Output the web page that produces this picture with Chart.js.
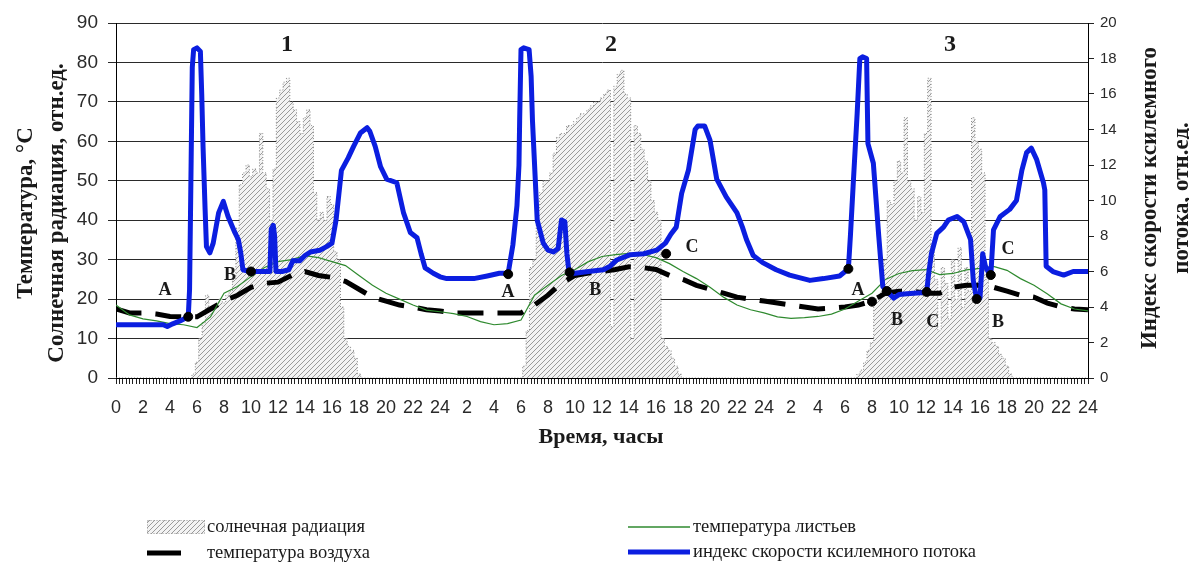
<!DOCTYPE html>
<html>
<head>
<meta charset="utf-8">
<script src="https://cdn.jsdelivr.net/npm/chart.js@4.4.1/dist/chart.umd.min.js"></script>
<style>
  html, body { margin: 0; padding: 0; background: #fff; }
</style>
</head>
<body>
<canvas id="chart" width="1189" height="573"></canvas>
<script>
// --- data (hours run 0..72 over three days) ---
const hourTicks = [0, 2, 4, 6, 8, 10, 12, 14, 16, 18, 20, 22, 24];

// solar radiation, rel. units, sampled every 15 min during daylight
const radStep = 0.25;
const radStart = [5.75, 30.25, 55.0];
const radDay1 = [1, 4, 10, 14, 21, 17, 18, 19, 20, 19, 21, 22, 25, 38, 49, 52, 54, 51, 53, 52, 62, 52, 48, 40, 53,
  71, 73, 75, 76, 70, 68, 65, 62, 66, 68, 64, 47, 40, 42, 40, 46, 44, 32, 30, 18, 10, 8, 7, 5, 1];
const radDay2 = [3, 12, 28, 30, 43, 47, 50, 50, 52, 57, 61, 62, 62, 64, 64, 65, 66, 67, 67, 68, 69, 70, 70, 71, 72,
  73, 13, 74, 77, 78, 72, 71, 10, 64, 62, 58, 55, 50, 45, 42, 40, 10, 8, 7, 5, 3, 1];
const radDay3 = [1, 2, 4, 7, 9, 20, 21, 22, 30, 45, 44, 50, 55, 52, 66, 50, 48, 40, 46, 42, 62, 76, 32, 25, 12, 28,
  24, 15, 30, 20, 33, 18, 28, 22, 66, 60, 58, 52, 25, 10, 9, 8, 6, 5, 3, 1];

// air temperature, °C, hourly
const airTemp = [17.5, 16.5, 16.5, 16.2, 15.6, 15.5, 15.5, 17.5, 19.5, 21, 23, 24, 24.3, 26, 27, 26, 25.5, 24.5,
  22.5, 20.5, 19.5, 18.5, 18, 17.3, 17, 16.5, 16.5, 16.5, 16.5, 16.5, 16.5, 18.5, 21, 24, 26, 26.6, 27, 27.5,
  28.2, 28, 27.5, 26, 25, 23.5, 22.5, 21.5, 20.5, 20, 19.5, 19, 18.5, 18, 17.5, 17.7, 18, 18.5, 19.5, 21.5, 22,
  22, 21.5, 21.5, 23, 23.5, 23.5, 23, 22, 21, 20.5, 19, 18, 17.5, 17.3];

// leaf temperature, °C, hourly
const leafTemp = [18.5, 16, 15, 14.5, 13.8, 13.5, 12.8, 15.5, 21.5, 23.2, 25.7, 28, 29.5, 30, 31, 30.5, 29.5, 28.5,
  26, 23.5, 21.5, 20, 18.5, 17.2, 16.8, 16.3, 15.6, 14.3, 13.5, 13.8, 14.7, 21, 23.5, 26, 27.5, 29.5, 30.8, 31.3,
  31.6, 31.3, 30.5, 29, 27, 25.2, 23, 20.5, 18.5, 17.3, 16.5, 15.5, 15.1, 15.3, 15.6, 16.2, 17.5, 19.5, 21.5,
  25, 26.5, 27.2, 27.5, 26.2, 26.5, 27.4, 27.8, 28.3, 27.3, 25.2, 23.5, 21.3, 18.8, 17.5, 17];

// xylem flow index, rel. units: [hour, value]
const flowIndex = [
  [0, 3.0], [1, 3.0], [2, 3.0], [3, 3.0], [3.5, 3.0], [3.8, 2.9], [4.2, 3.05], [4.7, 3.2], [5.1, 3.35], [5.35, 3.4],
  [5.45, 5], [5.55, 11.2], [5.65, 17.5], [5.75, 18.5], [6.0, 18.6], [6.25, 18.4], [6.35, 16], [6.45, 13.0],
  [6.6, 9.5], [6.7, 7.4], [6.95, 7.05], [7.2, 7.6], [7.6, 9.3], [7.95, 9.95], [8.3, 9.1], [8.8, 8.2], [9.06, 7.8],
  [9.25, 7.0], [9.4, 6.1], [9.9, 6.0], [10.5, 6.0], [11.0, 6.0], [11.4, 6.0], [11.5, 8.4], [11.65, 8.6],
  [11.75, 8.0], [11.85, 6.0], [12.3, 6.0], [12.8, 6.1], [13.1, 6.6], [13.6, 6.6], [14.0, 6.9], [14.4, 7.1],
  [15.1, 7.2], [15.6, 7.4], [16.0, 7.6], [16.3, 8.9], [16.5, 10.3], [16.7, 11.7], [17.2, 12.4], [17.6, 13.05],
  [18.1, 13.8], [18.6, 14.1], [18.8, 13.9], [19.2, 13.05], [19.6, 11.9], [20.05, 11.2], [20.8, 11.0], [21.3, 9.3],
  [21.8, 8.2], [22.3, 7.9], [22.6, 7.0], [22.9, 6.2], [23.5, 5.9], [24, 5.7],
  [24.5, 5.6], [25.5, 5.6], [26.5, 5.6], [27.5, 5.75], [28.4, 5.9], [29.05, 5.9], [29.4, 7.5], [29.7, 9.7],
  [29.85, 12], [29.9, 14.5], [30.0, 18.5], [30.2, 18.6], [30.6, 18.5], [30.75, 17], [30.85, 14.5], [31.2, 8.9],
  [31.65, 7.6], [32.0, 7.2], [32.4, 7.1], [32.75, 7.3], [33.0, 8.9], [33.25, 8.8], [33.4, 7.0], [33.55, 6.0],
  [34.0, 5.9], [35.0, 6.0], [36.1, 6.1], [36.6, 6.3], [37.1, 6.65], [38.1, 6.95], [39.1, 7.0], [40.05, 7.2],
  [40.7, 7.6], [41.1, 8.1], [41.5, 8.5], [41.9, 10.4], [42.4, 11.7], [42.9, 14.0], [43.1, 14.2], [43.6, 14.2],
  [44.0, 13.4], [44.5, 11.2], [45.2, 10.2], [46.0, 9.3], [46.4, 8.5], [46.7, 7.8], [47.2, 6.9], [47.9, 6.5],
  [48.9, 6.1], [49.9, 5.8], [51.4, 5.5], [52.4, 5.6], [53.6, 5.75], [54.25, 6.15],
  [54.4, 8], [54.6, 10.8], [54.9, 14.9], [55.1, 18.0], [55.3, 18.1], [55.6, 18.0], [55.7, 13.2], [56.1, 12.1],
  [56.5, 8.0], [56.8, 5.15], [57.1, 4.9], [57.6, 4.5], [58.0, 4.7], [58.6, 4.75], [59.6, 4.8], [60.05, 4.85],
  [60.2, 5.9], [60.4, 7.0], [60.8, 8.15], [61.3, 8.5], [61.65, 8.9], [62.3, 9.1], [62.8, 8.8], [63.3, 7.8],
  [63.5, 5.5], [63.75, 4.45], [64.0, 4.5], [64.2, 7.0], [64.4, 6.3], [64.6, 6.0], [64.8, 5.8], [65.0, 8.35],
  [65.5, 9.1], [66.2, 9.5], [66.7, 10.0], [67.1, 11.7], [67.45, 12.7], [67.8, 12.95], [68.2, 12.3], [68.7, 11.0],
  [68.8, 10.6], [68.9, 6.3], [69.4, 6.0], [70.2, 5.8], [70.9, 6.0], [72, 6.0]
];

// marked points on the flow curve: [hour, value]
const markPoints = [[5.35, 3.45], [10.0, 6.0], [29.05, 5.85], [33.6, 5.95], [40.75, 7.0], [54.25, 6.15],
  [56.0, 4.3], [57.1, 4.9], [60.05, 4.85], [63.75, 4.45], [64.8, 5.8]];

// letters at hour / temperature-axis value
const markLetters = [['A', 3.63, 22.3], ['B', 8.44, 26.1], ['A', 29.04, 21.6], ['B', 35.5, 22.3], ['C', 42.67, 33],
  ['A', 54.96, 22.3], ['B', 57.85, 14.5], ['C', 60.5, 14.2], ['C', 66.07, 32.5], ['B', 65.33, 14.2]];
const dayNumbers = [['1', 12.67, 84.5], ['2', 36.67, 84.5], ['3', 61.78, 84.5]];

// --- build series ---
const radPoints = [{x: 0, y: 0}];
[radDay1, radDay2, radDay3].forEach((vals, d) => {
  radPoints.push({x: radStart[d] - radStep, y: 0});
  vals.forEach((v, i) => radPoints.push({x: radStart[d] + i * radStep, y: v}));
  radPoints.push({x: radStart[d] + vals.length * radStep, y: 0});
});
radPoints.push({x: 72, y: 0});

const airPoints = airTemp.map((v, h) => ({x: h, y: v}));
const leafPoints = leafTemp.map((v, h) => ({x: h, y: v}));
const flowPoints = flowIndex.map(([h, v]) => ({x: h, y: v}));
const markPts = markPoints.map(([h, v]) => ({x: h, y: v}));

// hatch pattern for radiation
function makeHatch() {
  const c = document.createElement('canvas');
  c.width = 5; c.height = 5;
  const g = c.getContext('2d');
  g.fillStyle = '#f3f3f3';
  g.fillRect(0, 0, 5, 5);
  g.strokeStyle = '#9a9a9a';
  g.lineWidth = 1;
  g.beginPath();
  g.moveTo(0, 5); g.lineTo(5, 0);
  g.moveTo(-1, 1); g.lineTo(1, -1);
  g.moveTo(4, 6); g.lineTo(6, 4);
  g.stroke();
  return g.createPattern(c, 'repeat');
}
const hatch = makeHatch();

function hourLabel(v) {
  if (v % 2 !== 0) return '';
  if (v === 0) return '0';
  const m = v % 24;
  return m === 0 ? '24' : String(m);
}

const serif = '"Liberation Serif", "Times New Roman", serif';
const sans = '"Liberation Sans", Arial, sans-serif';

const annotations = {
  id: 'annotations',
  afterDatasetsDraw(chart) {
    const {ctx, scales: {x, y}} = chart;
    ctx.save();
    ctx.fillStyle = '#1a1a1a';
    ctx.textAlign = 'center';
    ctx.textBaseline = 'middle';
    ctx.font = 'bold 18px ' + serif;
    markLetters.forEach(([t, h, v]) => ctx.fillText(t, x.getPixelForValue(h), y.getPixelForValue(v)));
    ctx.font = 'bold 24px ' + serif;
    dayNumbers.forEach(([t, h, v]) => ctx.fillText(t, x.getPixelForValue(h), y.getPixelForValue(v)));
    ctx.restore();
  },
  afterDraw(chart) {
    const ctx = chart.ctx;
    ctx.save();
    ctx.fillStyle = '#1a1a1a';
    ctx.textAlign = 'center';
    ctx.textBaseline = 'middle';
    ctx.font = 'bold 23px ' + serif;
    const vtext = (t, cx, cy) => {
      ctx.save();
      ctx.translate(cx, cy);
      ctx.rotate(-Math.PI / 2);
      ctx.fillText(t, 0, 0);
      ctx.restore();
    };
    vtext('Температура, °C', 26, 213);
    vtext('Солнечная радиация, отн.ед.', 57, 213);
    vtext('Индекс скорости ксилемного', 1150, 198);
    vtext('потока, отн.ед.', 1182, 198);
    ctx.font = 'bold 22px ' + serif;
    ctx.fillText('Время, часы', 601, 437);

    // legend
    ctx.textAlign = 'left';
    ctx.font = '18.5px ' + serif;
    ctx.fillStyle = hatch;
    ctx.fillRect(147, 520, 58, 14);
    ctx.strokeStyle = '#999';
    ctx.setLineDash([1, 2]);
    ctx.lineWidth = 1;
    ctx.strokeRect(147.5, 520.5, 57, 13);
    ctx.setLineDash([]);
    ctx.strokeStyle = '#000';
    ctx.lineWidth = 5;
    ctx.beginPath(); ctx.moveTo(147, 553); ctx.lineTo(181, 553); ctx.stroke();
    ctx.strokeStyle = '#2f8a2f';
    ctx.lineWidth = 1.3;
    ctx.beginPath(); ctx.moveTo(628, 527); ctx.lineTo(690, 527); ctx.stroke();
    ctx.strokeStyle = '#0b1ee0';
    ctx.lineWidth = 5;
    ctx.beginPath(); ctx.moveTo(628, 552); ctx.lineTo(690, 552); ctx.stroke();
    ctx.fillStyle = '#1a1a1a';
    ctx.fillText('солнечная радиация', 207, 527);
    ctx.fillText('температура воздуха', 207, 553);
    ctx.fillText('температура листьев', 693, 527);
    ctx.fillText('индекс скорости ксилемного потока', 693, 552);
    ctx.restore();
  }
};

new Chart(document.getElementById('chart'), {
  type: 'line',
  data: {
    datasets: [
      {
        label: 'отметки',
        data: markPts,
        yAxisID: 'y1',
        showLine: false,
        pointRadius: 4.5,
        pointBackgroundColor: '#000',
        pointBorderColor: '#000',
        order: 1
      },
      {
        label: 'индекс скорости ксилемного потока',
        data: flowPoints,
        yAxisID: 'y1',
        borderColor: '#0b1ee0',
        borderWidth: 5,
        borderJoinStyle: 'round',
        pointRadius: 0,
        tension: 0,
        order: 2
      },
      {
        label: 'температура листьев',
        data: leafPoints,
        yAxisID: 'y',
        borderColor: '#2f8a2f',
        borderWidth: 1.2,
        pointRadius: 0,
        tension: 0,
        order: 3
      },
      {
        label: 'температура воздуха',
        data: airPoints,
        yAxisID: 'y',
        borderColor: '#000',
        borderWidth: 5,
        borderDash: [26, 14],
        pointRadius: 0,
        tension: 0,
        order: 4
      },
      {
        label: 'солнечная радиация',
        data: radPoints,
        yAxisID: 'y',
        stepped: 'middle',
        fill: 'origin',
        backgroundColor: hatch,
        borderColor: '#8a8a8a',
        borderWidth: 1,
        borderDash: [1, 2],
        pointRadius: 0,
        order: 5
      }
    ]
  },
  options: {
    responsive: false,
    animation: false,
    events: [],
    layout: { padding: { top: 23, left: 0, right: 0, bottom: 0 } },
    plugins: { legend: { display: false }, tooltip: { enabled: false } },
    scales: {
      x: {
        type: 'linear',
        min: 0,
        max: 72,
        afterFit: s => { s.height = 195; },
        grid: { drawOnChartArea: false, color: '#222', tickLength: 6 },
        border: { color: '#000', width: 1 },
        ticks: {
          stepSize: radStep,
          autoSkip: false,
          maxRotation: 0,
          minRotation: 0,
          padding: 13,
          color: '#2a2a2a',
          font: { family: sans, size: 18 },
          callback: v => hourLabel(v)
        }
      },
      y: {
        position: 'left',
        min: 0,
        max: 90,
        afterFit: s => { s.width = 116; },
        grid: { color: '#2a2a2a', lineWidth: 1, tickLength: 8 },
        border: { color: '#000', width: 1 },
        ticks: { stepSize: 10, padding: 10, color: '#2a2a2a', font: { family: sans, size: 19 } }
      },
      y1: {
        position: 'right',
        min: 0,
        max: 20,
        afterFit: s => { s.width = 101; },
        grid: { drawOnChartArea: false, color: '#222', tickLength: 6 },
        border: { color: '#000', width: 1 },
        ticks: { stepSize: 2, padding: 6, color: '#2a2a2a', font: { family: sans, size: 15 } }
      }
    }
  },
  plugins: [annotations]
});
</script>
</body>
</html>
